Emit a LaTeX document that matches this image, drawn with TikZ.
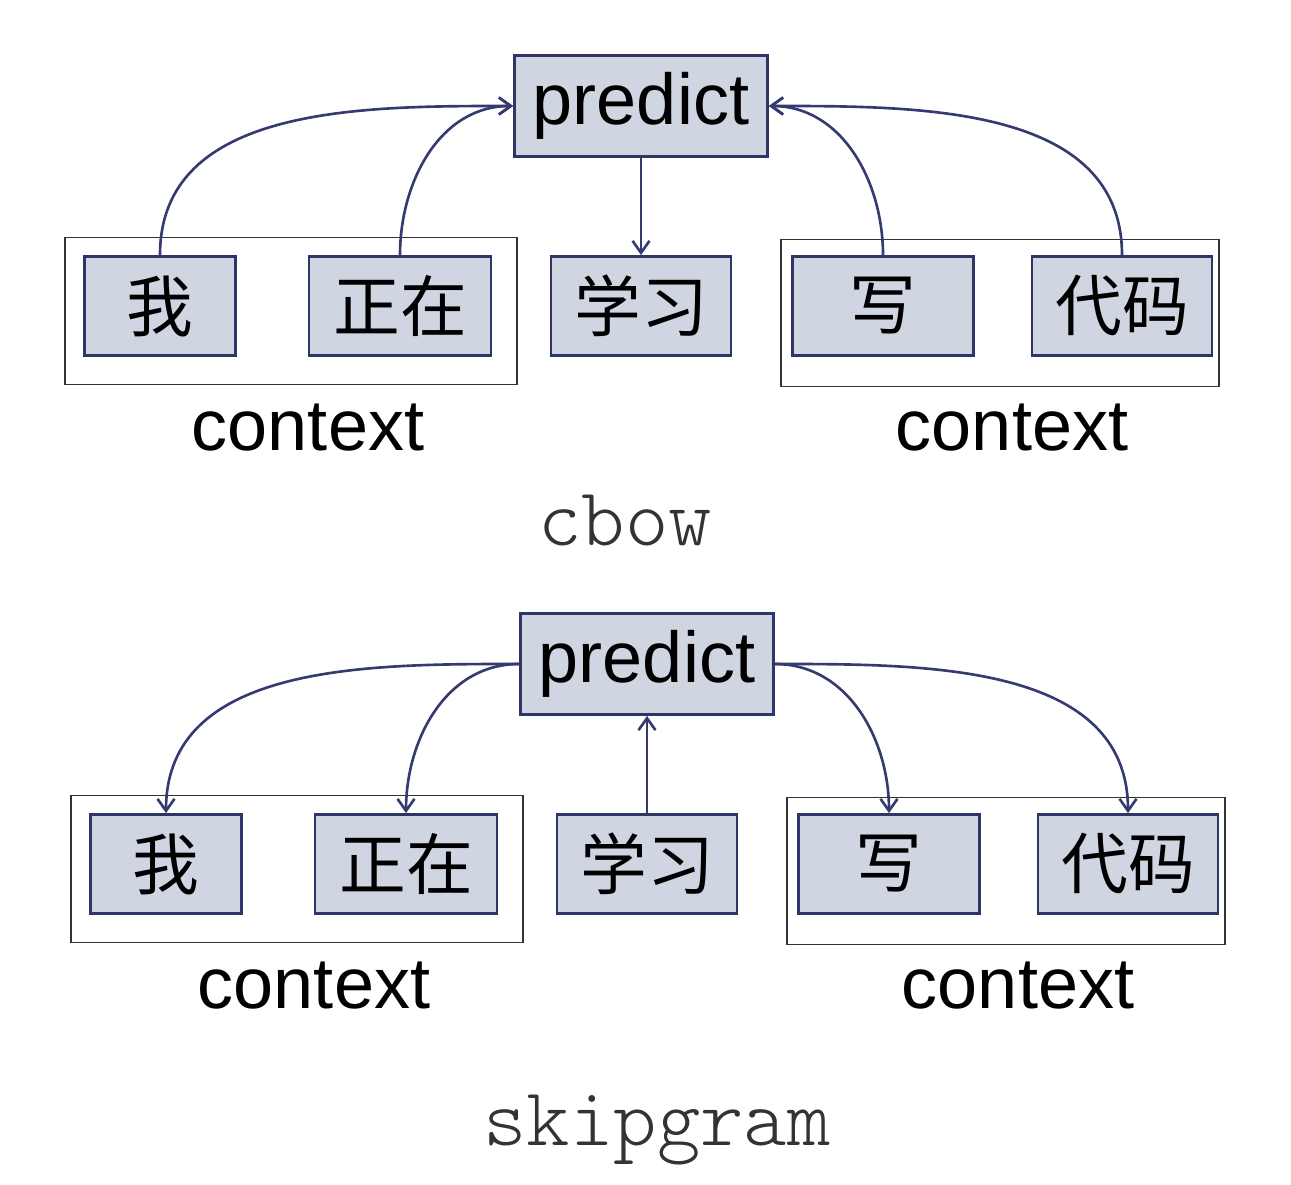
\documentclass[tikz,border=0pt]{standalone}
\usepackage{fontspec}
\setmainfont{Liberation Sans}
\setmonofont{Latin Modern Mono Light}
\newfontfamily\cjk{Noto Sans CJK SC}
\usetikzlibrary{arrows.meta}
\definecolor{boxfill}{HTML}{D0D5E2}
\definecolor{boxline}{HTML}{2F3565}
\definecolor{linkcol}{HTML}{353B70}
\tikzset{
  word/.style={draw=boxline, fill=boxfill, line width=1.6pt, minimum height=1.98cm, inner sep=0pt, font=\cjk\fontsize{38}{44}\selectfont},
  pred/.style={word, minimum width=5.06cm, minimum height=2.02cm, font=\fontsize{41}{48}\selectfont},
  ctxbox/.style={draw=black!80, line width=0.8pt, minimum height=2.94cm},
  ctxlabel/.style={font=\fontsize{41}{48}\selectfont},
  modelname/.style={anchor=base, font=\ttfamily\fontsize{47}{54}\selectfont, text=black!80}
}
\begin{document}
\begin{tikzpicture}[x=0.02cm, y=-0.02cm, >={Straight Barb[length=2.4mm, width=3.4mm]}]
  \useasboundingbox (0,0) rectangle (1291,1185);
  \node[ctxbox, minimum width=9.04cm] (lc1) at (291,311) {};
  \node[ctxbox, minimum width=8.76cm] (rc1) at (1000,313) {};
  \node[pred] (p1) at (641,106) {predict};
  \node[word, minimum width=3.02cm] (w11) at (160,306) {我};
  \node[word, minimum width=3.64cm] (w12) at (400,306) {正在};
  \node[word, minimum width=3.6cm] (w13) at (641,306) {学习};
  \node[word, minimum width=3.62cm] (w14) at (883,306) {写};
  \node[word, minimum width=3.6cm] (w15) at (1122,306) {代码};
  \node[ctxlabel] (cl1) at (308,428) {context};
  \node[ctxlabel] (cr1) at (1012,428) {context};
  \node[modelname] (m1) at (625,545) {cbow};
  \path[->, color=linkcol, line width=1.5pt]
  (w11.north) edge[out=90, in=180] (p1.west)
  (w12.north) edge[out=90, in=180] (p1.west)
  (w14.north) edge[out=90, in=0] (p1.east)
  (w15.north) edge[out=90, in=0] (p1.east)
  (p1.south) edge (w13.north)
;
  \begin{scope}[shift={(6,558)}]
  \node[ctxbox, minimum width=9.04cm] (lc2) at (291,311) {};
  \node[ctxbox, minimum width=8.76cm] (rc2) at (1000,313) {};
  \node[pred] (p2) at (641,106) {predict};
  \node[word, minimum width=3.02cm] (w21) at (160,306) {我};
  \node[word, minimum width=3.64cm] (w22) at (400,306) {正在};
  \node[word, minimum width=3.6cm] (w23) at (641,306) {学习};
  \node[word, minimum width=3.62cm] (w24) at (883,306) {写};
  \node[word, minimum width=3.6cm] (w25) at (1122,306) {代码};
  \node[ctxlabel] (cl2) at (308,428) {context};
  \node[ctxlabel] (cr2) at (1012,428) {context};
  \node[modelname] (m2) at (651,587) {skipgram};
  \path[->, color=linkcol, line width=1.5pt]
  (p2.west) edge[out=180, in=90] (w21.north)
  (p2.west) edge[out=180, in=90] (w22.north)
  (p2.east) edge[out=0, in=90] (w24.north)
  (p2.east) edge[out=0, in=90] (w25.north)
  (w23.north) edge (p2.south)
;
  \end{scope}
\end{tikzpicture}
\end{document}
